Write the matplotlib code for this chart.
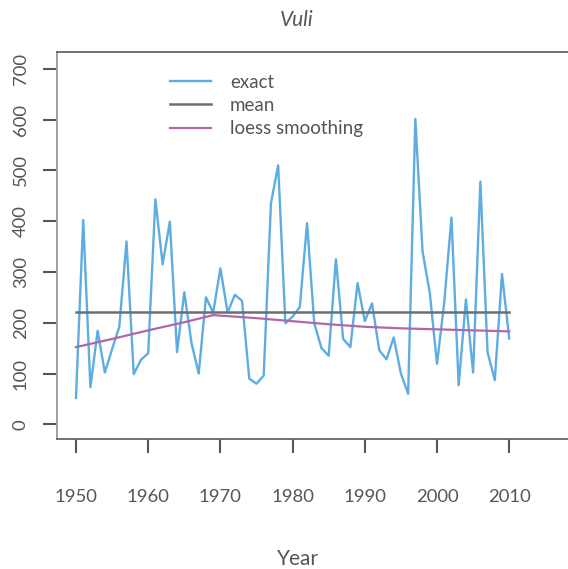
import numpy as np
import matplotlib.pyplot as plt

# valores
anos = np.arange(1950, 2011)
chuva = [52, 402, 73, 184, 102, 148, 192, 360, 99, 127,
         140, 443, 315, 399, 142, 260, 160, 100, 250, 220,
         307, 220, 255, 243, 90, 80, 96, 435, 510, 199,
         212, 231, 396, 199, 150, 135, 325, 168, 152, 278,
         203, 238, 146, 128, 171, 100, 60, 601, 340, 259,
         119, 240, 407, 77, 246, 102, 478, 142, 87, 296,
         169]

loess_anos = [1950, 1955, 1960, 1965, 1969, 1975, 1980, 1985, 1990, 1995, 2000, 2005, 2010]
loess_vals = [152, 168, 185, 201, 215, 209, 203, 197, 192, 189, 187, 185, 183]

anos_ticks = [1950, 1960, 1970, 1980, 1990, 2000, 2010]
y_ticks = [0, 100, 200, 300, 400, 500, 600, 700]

cinza_txt = '#555555'
plt.rcParams['font.family'] = ['Lato', 'DejaVu Sans']

fig = plt.figure(figsize=(5.68, 5.69), dpi=100)
ax = fig.add_axes([0.0998, 0.229, 0.9002, 0.679])

media = np.mean(chuva)
ax.plot(anos, chuva, color='#5DADE2', lw=1.7, label='exact')
ax.plot([anos[0], anos[-1]], [media, media], color='#6E6E6E', lw=1.8, label='mean')
ax.plot(loess_anos, loess_vals, color='#B266AA', lw=1.6, label='loess smoothing')

ax.set_xlim(1947.33, 2018.14)
ax.set_ylim(-28.3, 732.3)

ax.spines['right'].set_visible(False)
for lado in ['top', 'left', 'bottom']:
    ax.spines[lado].set_color('#666666')
    ax.spines[lado].set_linewidth(1.3)
ax.spines['left'].set_color('#999999')

ax.set_xticks(anos_ticks)
ax.set_yticks(y_ticks)
ax.tick_params(axis='x', length=10, width=1.5, color='#555555', pad=26,
               labelsize=13.3, labelcolor=cinza_txt)
ax.tick_params(axis='y', length=10, width=1.5, color='#555555', pad=10,
               labelsize=13.3, labelcolor=cinza_txt, labelrotation=90)
for t in ax.get_yticklabels():
    t.set_verticalalignment('center')

leg = ax.legend(loc='upper left', bbox_to_anchor=(0.2216, 0.945), frameon=False,
                fontsize=13.5, handlelength=2.2, handletextpad=1.0,
                labelspacing=0.34, borderpad=0, borderaxespad=0)
for txt in leg.get_texts():
    txt.set_color(cinza_txt)

fig.text(297 / 568, 1 - 20 / 569, 'Vuli', ha='center', va='center',
         fontsize=15, style='italic', color=cinza_txt)
fig.text(298 / 568, 1 - 559 / 569, 'Year', ha='center', va='center',
         fontsize=15, color=cinza_txt)

plt.savefig('out.png', dpi=100)
